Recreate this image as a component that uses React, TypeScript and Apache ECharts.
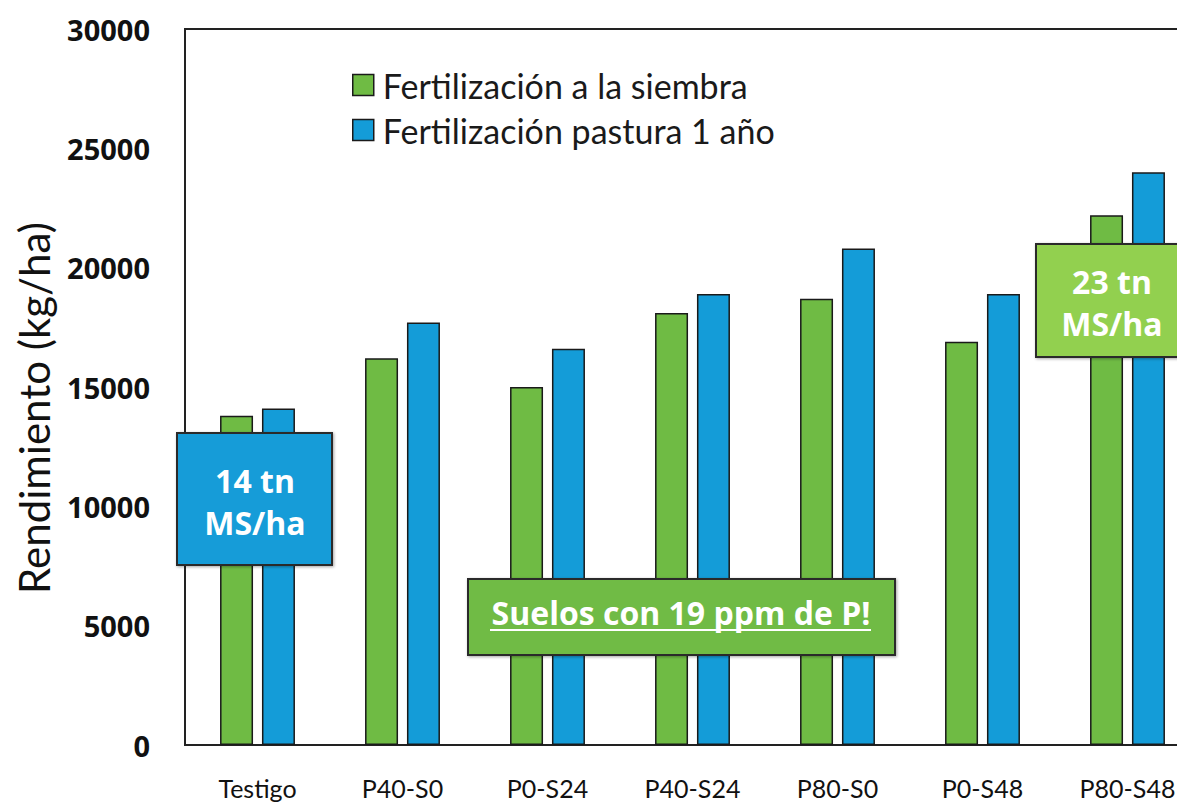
import React, { useEffect, useRef } from "react";
import * as echarts from "echarts";

const categories = ["Testigo", "P40-S0", "P0-S24", "P40-S24", "P80-S0", "P0-S48", "P80-S48"];
const siembra = [13800, 16200, 15000, 18100, 18700, 16900, 22200];
const pastura = [14100, 17700, 16600, 18900, 20800, 18900, 24000];
const yTicks = [0, 5000, 10000, 15000, 20000, 25000, 30000];
const seriesNames = ["Fertilización a la siembra", "Fertilización pastura 1 año"];

const GREEN = "#6fbb44";
const BLUE = "#149cd8";
const LIGHT_GREEN = "#92d050";
const FONT = "'Open Sans', Lato, sans-serif";
const FONT2 = "Lato, 'Open Sans', sans-serif";

export default function App() {
  const ref = useRef<HTMLDivElement>(null);
  useEffect(() => {
    if (!ref.current) return;
    const chart = echarts.init(ref.current, null, { renderer: "svg" });
    const box = (x: number, y: number, w: number, h: number, fill: string) => ({
      type: "rect",
      z: 100,
      shape: { x, y, width: w, height: h },
      style: { fill, stroke: "#2a2a2a", lineWidth: 2, shadowBlur: 3, shadowColor: "rgba(0,0,0,0.35)", shadowOffsetX: 1, shadowOffsetY: 1 },
    });
    const txt = (x: number, y: number, text: string, size: number) => ({
      type: "text",
      z: 101,
      x,
      y,
      style: {
        text,
        fill: "#ffffff",
        font: `bold ${size}px ${FONT}`,
        textAlign: "center",
        textVerticalAlign: "middle",
      },
    });
    chart.setOption({
      animation: false,
      backgroundColor: "#ffffff",
      textStyle: { fontFamily: FONT },
      grid: {
        left: 185,
        top: 29,
        width: 1015,
        height: 716,
        show: true,
        borderColor: "#222",
        borderWidth: 2,
        backgroundColor: "transparent",
      },
      legend: {
        orient: "vertical",
        left: 352,
        top: 67,
        padding: 0,
        itemGap: 9,
        itemWidth: 21,
        itemHeight: 21,
        icon: "rect",
        data: seriesNames,
        itemStyle: { borderColor: "#1a1a1a", borderWidth: 1.5 },
        textStyle: { fontSize: 34, lineHeight: 36, color: "#1a1a1a", fontFamily: FONT2, padding: [0, 0, 0, 4] },
      },
      xAxis: {
        type: "category",
        data: categories,
        axisLine: { show: true, lineStyle: { color: "#222", width: 2 } },
        axisTick: { show: false },
        axisLabel: {
          interval: 0,
          fontSize: 25,
          color: "#111",
          margin: 30,
          fontFamily: FONT2,
          fontWeight: "normal",
        },
      },
      yAxis: {
        type: "value",
        min: 0,
        max: 30000,
        interval: 5000,
        axisLine: { show: true, lineStyle: { color: "#222", width: 2 } },
        axisTick: { show: false },
        splitLine: { show: false },
        axisLabel: {
          fontSize: 29,
          fontWeight: "bold",
          color: "#111",
          margin: 35,
          fontFamily: FONT,
          customValues: yTicks,
          formatter: (v: number) => String(v),
        },
      },
      series: [
        {
          name: seriesNames[0],
          type: "bar",
          data: siembra,
          barWidth: 33,
          barGap: "27%",
          itemStyle: { color: GREEN, borderColor: "#1a1a1a", borderWidth: 1.5 },
        },
        {
          name: seriesNames[1],
          type: "bar",
          data: pastura,
          barWidth: 33,
          barGap: "27%",
          itemStyle: { color: BLUE, borderColor: "#1a1a1a", borderWidth: 1.5 },
        },
      ],
      graphic: [
        {
          type: "text",
          x: 34,
          y: 408,
          rotation: Math.PI / 2,
          style: {
            text: "Rendimiento (kg/ha)",
            fill: "#111",
            font: `42px ${FONT2}`,
            textAlign: "center",
            textVerticalAlign: "middle",
          },
        },
        box(177, 433, 155, 132, BLUE),
        txt(255, 480, "14 tn", 32),
        txt(255, 522, "MS/ha", 32),
        box(468, 579, 427, 76, GREEN),
        txt(681, 612, "Suelos con 19 ppm de P!", 32),
        {
          type: "line",
          z: 101,
          shape: { x1: 490, y1: 630, x2: 871, y2: 630 },
          style: { stroke: "#ffffff", lineWidth: 2 },
        },
        box(1036, 244, 160, 113, LIGHT_GREEN),
        txt(1112, 281, "23 tn", 32),
        txt(1112, 323, "MS/ha", 32),
      ],
    });
    return () => chart.dispose();
  }, []);
  return (
    <div style={{ position: "fixed", left: 0, top: 0, width: 1177, height: 806, overflow: "hidden", background: "#fff" }}>
      <div ref={ref} style={{ width: 1240, height: 806 }} />
    </div>
  );
}
